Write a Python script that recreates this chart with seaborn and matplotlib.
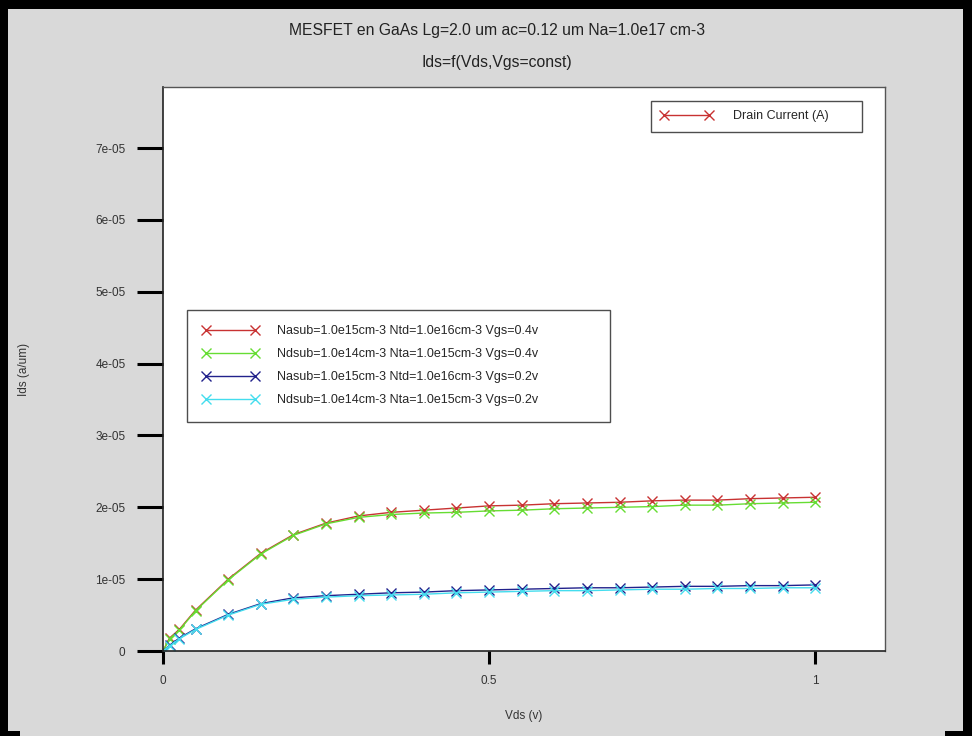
import matplotlib
matplotlib.use("Agg")
import matplotlib.pyplot as plt
from matplotlib.lines import Line2D
from matplotlib.patches import Rectangle
import seaborn as sns
import pandas as pd

# Drain voltage sweep (V)
vds = [0.0, 0.01, 0.025, 0.05, 0.1, 0.15, 0.2, 0.25, 0.3, 0.35, 0.4, 0.45, 0.5,
       0.55, 0.6, 0.65, 0.7, 0.75, 0.8, 0.85, 0.9, 0.95, 1.0]

# Drain current per unit width (A/um), in units of 1e-5
ids_nasub_04 = [0.0, 0.18, 0.30, 0.57, 1.00, 1.36, 1.62, 1.78, 1.88, 1.93, 1.96, 1.99,
                2.02, 2.03, 2.05, 2.06, 2.07, 2.09, 2.10, 2.10, 2.12, 2.13, 2.14]
ids_ndsub_04 = [0.0, 0.17, 0.29, 0.56, 0.99, 1.35, 1.61, 1.77, 1.86, 1.90, 1.92, 1.93,
                1.95, 1.96, 1.98, 1.99, 2.00, 2.01, 2.03, 2.03, 2.05, 2.06, 2.07]
ids_nasub_02 = [0.0, 0.08, 0.18, 0.31, 0.51, 0.66, 0.74, 0.77, 0.79, 0.81, 0.82, 0.84,
                0.85, 0.86, 0.87, 0.88, 0.88, 0.89, 0.90, 0.90, 0.91, 0.91, 0.92]
ids_ndsub_02 = [0.0, 0.07, 0.17, 0.30, 0.50, 0.65, 0.72, 0.75, 0.77, 0.78, 0.79, 0.81,
                0.82, 0.83, 0.84, 0.84, 0.85, 0.86, 0.86, 0.87, 0.87, 0.88, 0.88]

series_labels = [
    "Nasub=1.0e15cm-3 Ntd=1.0e16cm-3 Vgs=0.4v",
    "Ndsub=1.0e14cm-3 Nta=1.0e15cm-3 Vgs=0.4v",
    "Nasub=1.0e15cm-3 Ntd=1.0e16cm-3 Vgs=0.2v",
    "Ndsub=1.0e14cm-3 Nta=1.0e15cm-3 Vgs=0.2v",
]
series_values = [ids_nasub_04, ids_ndsub_04, ids_nasub_02, ids_ndsub_02]
series_colors = ["#c83232", "#66dd33", "#22228c", "#44ddee"]

x_ticks = [0, 0.5, 1]
x_tick_labels = ["0", "0.5", "1"]
y_ticks = [0, 1e-5, 2e-5, 3e-5, 4e-5, 5e-5, 6e-5, 7e-5]
y_tick_labels = ["0", "1e-05", "2e-05", "3e-05", "4e-05", "5e-05", "6e-05", "7e-05"]

rows = []
for label, vals in zip(series_labels, series_values):
    for v, i in zip(vds, vals):
        rows.append({"Vds": v, "Ids": i * 1e-5, "serie": label})
df = pd.DataFrame(rows)

sns.set_theme(style="white")
plt.rcParams["font.family"] = ["Liberation Sans", "DejaVu Sans"]

W, H = 972, 736
bg = "#d9d9d9"
fig = plt.figure(figsize=(W / 100, H / 100), dpi=100, facecolor=bg)
ax = fig.add_axes([163 / W, 1 - 651 / H, (885 - 163) / W, (651 - 87) / H])
ax.set_facecolor("white")

palette = dict(zip(series_labels, series_colors))
sns.lineplot(data=df, x="Vds", y="Ids", hue="serie", hue_order=series_labels,
             palette=palette, marker="x", markersize=7, markeredgewidth=1.0,
             linewidth=1.0, dashes=False, legend=False, ax=ax, sort=False,
             estimator=None)
for line in ax.lines:
    line.set_markeredgecolor(line.get_color())

ax.set_xlim(0, 1.107)
ax.set_ylim(0, 7.85e-5)
ax.set_xticks(x_ticks)
ax.set_xticklabels(x_tick_labels)
ax.set_yticks(y_ticks)
ax.set_yticklabels(y_tick_labels)
ax.tick_params(axis="y", direction="out", length=19, width=2.2, color="black",
               labelsize=8.5, labelcolor="#333333", pad=8, left=True)
ax.tick_params(axis="x", direction="out", length=9, width=2.2, color="black",
               labelsize=8.5, labelcolor="#333333", pad=8, bottom=True)
for side in ["left", "bottom"]:
    ax.spines[side].set_color("#222222")
    ax.spines[side].set_linewidth(1.2)
for side in ["top", "right"]:
    ax.spines[side].set_color("#555555")
    ax.spines[side].set_linewidth(1.0)

ax.set_xlabel("Vds (v)", fontsize=8.5, color="#333333")
ax.xaxis.set_label_coords(0.5, (651 - 710) / 564)
ax.set_ylabel("Ids (a/um)", fontsize=8.5, color="#333333")
ax.yaxis.set_label_coords((30 - 163) / 722, 0.5)

fig.text(497 / W, 1 - 31 / H, "MESFET en GaAs Lg=2.0 um ac=0.12 um Na=1.0e17 cm-3",
         ha="center", va="center", fontsize=11.3, color="#222222")
fig.text(497 / W, 1 - 63 / H, "Ids=f(Vds,Vgs=const)",
         ha="center", va="center", fontsize=11.3, color="#222222")

# Series legend
handles = [Line2D([0], [0], color=c, marker="x", markersize=7, linewidth=1.0)
           for c in series_colors]
ax_w, ax_h = 722, 564
leg = ax.legend(handles, series_labels, loc="upper left",
                bbox_to_anchor=((187 - 163) / ax_w, (651 - 420) / ax_h,
                                (610 - 187) / ax_w, (420 - 310) / ax_h),
                mode="expand", numpoints=2, handlelength=4.5, handletextpad=1.45,
                fontsize=9, labelspacing=0.88, frameon=True, fancybox=False,
                borderpad=1.24, borderaxespad=0)
leg.get_frame().set_edgecolor("#222222")
leg.get_frame().set_linewidth(1.0)
ax.add_artist(leg)

# Drain current legend
dc = Line2D([0], [0], color="#c83232", marker="x", markersize=7, linewidth=1.0)
leg2 = ax.legend([dc], ["Drain Current (A)"], loc="upper left",
                 bbox_to_anchor=((651 - 163) / ax_w, (651 - 133) / ax_h,
                                 (862 - 651) / ax_w, (133 - 101) / ax_h),
                 mode="expand", numpoints=2, handlelength=4.2, handletextpad=1.6,
                 fontsize=9, frameon=True, fancybox=False, borderpad=0.75,
                 borderaxespad=0)
leg2.get_frame().set_edgecolor("#222222")
leg2.get_frame().set_linewidth(1.0)

# Black window frame
def frame_rect(x0, y0, w, h):
    fig.patches.append(Rectangle((x0 / W, 1 - (y0 + h) / H), w / W, h / H,
                                 transform=fig.transFigure, facecolor="black",
                                 edgecolor="none", zorder=10))
frame_rect(0, 0, W, 9)
frame_rect(0, 0, 8, H)
frame_rect(W - 9, 0, 9, H)
frame_rect(0, H - 5, 20, 5)
frame_rect(W - 27, H - 5, 27, 5)

fig.savefig("out.png", dpi=100, facecolor=bg)
